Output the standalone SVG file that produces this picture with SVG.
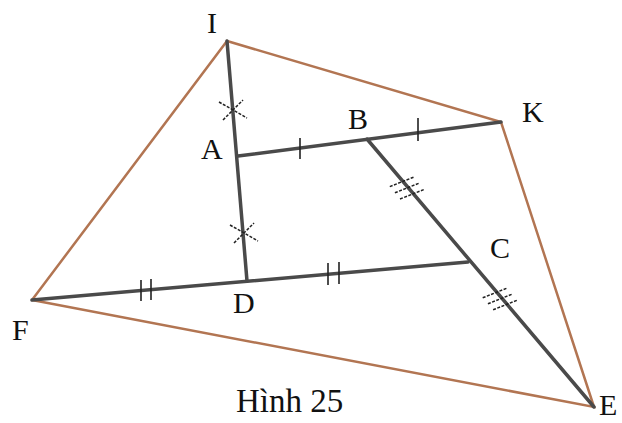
<svg xmlns="http://www.w3.org/2000/svg" width="622" height="423" viewBox="0 0 622 423">
<style>
.outer{stroke:#b27552;stroke-width:2.5;fill:none;stroke-linecap:round}
.inner{stroke:#4a4a4a;stroke-width:3.5;fill:none;stroke-linecap:round}
.tick{stroke:#222;stroke-width:1.6;fill:none}
.dtick{stroke:#222;stroke-width:1.5;fill:none;stroke-dasharray:3,1.5}
.lbl{font-family:"Liberation Serif",serif;font-size:30px;fill:#111}
</style>
<rect width="622" height="423" fill="#fff"/>
<g id="connectors">
<polyline class="outer" points="32,300 227,41 501,122 594,407 32,300"/>
<line class="inner" x1="227" y1="41" x2="247" y2="281"/>
<line class="inner" x1="238" y1="156" x2="501" y2="122"/>
<line class="inner" x1="32" y1="300" x2="468" y2="262"/>
<line class="inner" x1="367" y1="139" x2="594" y2="407"/>
<path class="dtick" d="M219,102 L247,118 M223,120 L243,100"/>
<path class="dtick" d="M230,225 L258,241 M234,243 L254,223"/>
<path class="tick" d="M300,138 V159 M418,118 V141"/>
<path class="tick" d="M141,280 V301 M151,279 V300 M328,263 V285 M339,262 V284"/>
<path class="dtick" d="M389.8,186.6 L414,177 M394.9,192.8 L419.1,183.2 M400,199 L424.2,189.4"/>
<path class="dtick" d="M482.7,297.8 L506.9,288.2 M487.9,303.8 L512.1,294.2 M493.1,309.8 L517.3,300.2"/>
</g>
<g id="I"><text class="lbl" x="207" y="33">I</text></g>
<g id="K"><text class="lbl" x="522" y="122">K</text></g>
<g id="B"><text class="lbl" x="348" y="129">B</text></g>
<g id="A"><text class="lbl" x="201" y="159">A</text></g>
<g id="C"><text class="lbl" x="490" y="258">C</text></g>
<g id="D"><text class="lbl" x="233" y="313">D</text></g>
<g id="F"><text class="lbl" x="12" y="340">F</text></g>
<g id="E"><text class="lbl" x="599" y="415">E</text></g>
<g id="caption"><text class="lbl" x="236" y="412" style="font-size:33px">Hình 25</text></g>
</svg>
